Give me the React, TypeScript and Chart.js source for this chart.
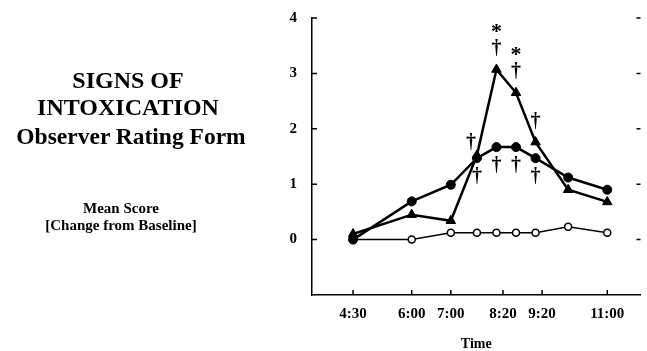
import React, { useEffect, useRef } from 'react';
import { Chart, registerables } from 'chart.js';

Chart.register(...registerables);

// Sample times in minutes after midnight
const sampleTimes = [270, 360, 420, 460, 490, 520, 550, 600, 660];
const filledCircleScores = [0.0, 0.69, 0.99, 1.47, 1.67, 1.67, 1.47, 1.12, 0.9];
const triangleScores = [0.1, 0.45, 0.34, 1.52, 3.07, 2.65, 1.76, 0.9, 0.68];
const openCircleScores = [0.0, 0.0, 0.125, 0.125, 0.125, 0.125, 0.125, 0.23, 0.125];

const xTickTimes = [270, 360, 420, 500, 560, 660];
const xTickLabels = ['4:30', '6:00', '7:00', '8:20', '9:20', '11:00'];
const yTickValues = [0, 1, 2, 3, 4];

// Significance marks (listed from nearest the point outward)
const triangleMarkTimes = [460, 490, 520, 550];
const triangleMarkSymbols = [['†'], ['†', '*'], ['†', '*'], ['†']];
const circleMarkTimes = [460, 490, 520, 550];
const circleMarkSymbols = [['†'], ['†'], ['†'], ['†']];

const SERIF = '"Liberation Serif", "Times New Roman", serif';

const decorPlugin = {
  id: 'decor',
  afterDraw(chart: any) {
    const { ctx, chartArea } = chart;
    const xs = chart.scales.x;
    const ys = chart.scales.y;
    ctx.save();
    ctx.strokeStyle = '#000';
    ctx.lineWidth = 1.5;
    ctx.beginPath();
    yTickValues.forEach((v) => {
      const py = ys.getPixelForValue(v);
      ctx.moveTo(chartArea.left, py);
      ctx.lineTo(chartArea.left + 5, py);
      ctx.moveTo(chartArea.right - 4, py);
      ctx.lineTo(chartArea.right, py);
    });
    xTickTimes.forEach((t) => {
      const px = xs.getPixelForValue(t);
      ctx.moveTo(px, chartArea.bottom);
      ctx.lineTo(px, chartArea.bottom - 5);
    });
    ctx.stroke();

    ctx.fillStyle = '#000';
    const drawGlyph = (s: string, x: number, cy: number) => {
      ctx.font = s === '*' ? `bold 22px ${SERIF}` : `bold 20px ${SERIF}`;
      ctx.textAlign = 'center';
      ctx.textBaseline = 'alphabetic';
      const m = ctx.measureText(s);
      ctx.fillText(s, x, cy + (m.actualBoundingBoxAscent - m.actualBoundingBoxDescent) / 2);
    };
    triangleMarkTimes.forEach((t, i) => {
      const k = sampleTimes.indexOf(t);
      const first = i === 0;
      const px = xs.getPixelForValue(t) + (first ? -6 : 0);
      const py = ys.getPixelForValue(triangleScores[k]);
      triangleMarkSymbols[i].forEach((s, j) => drawGlyph(s, px, py - (first ? 14 : 22) - j * 19));
    });
    circleMarkTimes.forEach((t, i) => {
      const k = sampleTimes.indexOf(t);
      const px = xs.getPixelForValue(t);
      const py = ys.getPixelForValue(filledCircleScores[k]);
      circleMarkSymbols[i].forEach((s, j) => drawGlyph(s, px, py + 17 + j * 19));
    });
    ctx.restore();
  },
};

const textStyle = (cx: number, baseline: number, size: number): React.CSSProperties => ({
  position: 'absolute',
  left: cx - 150,
  width: 300,
  top: baseline - 0.8375 * size,
  textAlign: 'center',
  fontFamily: SERIF,
  fontWeight: 'bold',
  fontSize: size,
  lineHeight: `${size}px`,
  whiteSpace: 'nowrap',
  color: '#000',
});

export default function App() {
  const ref = useRef<HTMLCanvasElement>(null);

  useEffect(() => {
    const tickFont = { family: SERIF, weight: 'bold' as const, size: 15 };
    const chart = new Chart(ref.current as HTMLCanvasElement, {
      type: 'line',
      data: {
        datasets: [
          {
            data: sampleTimes.map((t, i) => ({ x: t, y: filledCircleScores[i] })),
            borderColor: '#000',
            backgroundColor: '#000',
            borderWidth: 2.5,
            pointStyle: 'circle',
            pointRadius: 4.5,
            pointBorderWidth: 1,
            pointBackgroundColor: '#000',
            pointBorderColor: '#000',
            tension: 0,
          },
          {
            data: sampleTimes.map((t, i) => ({ x: t, y: triangleScores[i] })),
            borderColor: '#000',
            backgroundColor: '#000',
            borderWidth: 2.5,
            pointStyle: 'triangle',
            pointRadius: 5.5,
            pointBorderWidth: 1,
            pointBackgroundColor: '#000',
            pointBorderColor: '#000',
            tension: 0,
          },
          {
            data: sampleTimes.map((t, i) => ({ x: t, y: openCircleScores[i] })),
            borderColor: '#000',
            backgroundColor: '#fff',
            borderWidth: 1.5,
            pointStyle: 'circle',
            pointRadius: 3.5,
            pointBorderWidth: 1.5,
            pointBackgroundColor: '#fff',
            pointBorderColor: '#000',
            tension: 0,
          },
        ],
      },
      options: {
        responsive: false,
        animation: false,
        devicePixelRatio: 1,
        layout: { padding: { top: 18, left: 0, right: -7, bottom: 0 } },
        plugins: { legend: { display: false }, tooltip: { enabled: false } },
        scales: {
          x: {
            type: 'linear',
            min: 207,
            max: 711,
            grid: { display: false },
            border: { display: true, color: '#000', width: 1.5 },
            afterBuildTicks: (s: any) => {
              s.ticks = xTickTimes.map((v) => ({ value: v }));
            },
            ticks: {
              color: '#000',
              font: tickFont,
              padding: 2,
              maxRotation: 0,
              autoSkip: false,
              callback: (v: any) => {
                const i = xTickTimes.indexOf(Number(v));
                return i >= 0 ? xTickLabels[i] : '';
              },
            },
            title: {
              display: true,
              text: 'Time',
              color: '#000',
              font: { family: SERIF, weight: 'bold', size: 14, lineHeight: 1 },
              padding: 0,
            },
            afterFit: (s: any) => {
              s.height = 56;
              s.paddingLeft = 0;
              s.paddingRight = 0;
            },
          },
          y: {
            type: 'linear',
            min: -1,
            max: 4,
            grid: { display: false },
            border: { display: true, color: '#000', width: 1.5 },
            afterBuildTicks: (s: any) => {
              s.ticks = yTickValues.map((v) => ({ value: v }));
            },
            ticks: {
              color: '#000',
              font: tickFont,
              padding: 7,
              callback: (v: any) => String(v),
            },
            afterFit: (s: any) => {
              s.width = 312;
              s.paddingTop = 0;
              s.paddingBottom = 0;
            },
          },
        },
      },
      plugins: [decorPlugin],
    });
    return () => chart.destroy();
  }, []);

  return (
    <div style={{ position: 'absolute', left: 0, top: 0, width: 647, height: 351, background: '#fff', overflow: 'hidden' }}>
      <canvas ref={ref} width={647} height={351} style={{ position: 'absolute', left: 0, top: 0, width: 647, height: 351 }} />
      <div style={textStyle(128, 88.5, 24)}>SIGNS OF</div>
      <div style={textStyle(128, 115, 24)}>INTOXICATION</div>
      <div style={textStyle(131, 145, 23.5)}>Observer Rating Form</div>
      <div style={textStyle(121, 213.3, 15)}>Mean Score</div>
      <div style={textStyle(121, 230.5, 15)}>[Change from Baseline]</div>
    </div>
  );
}
